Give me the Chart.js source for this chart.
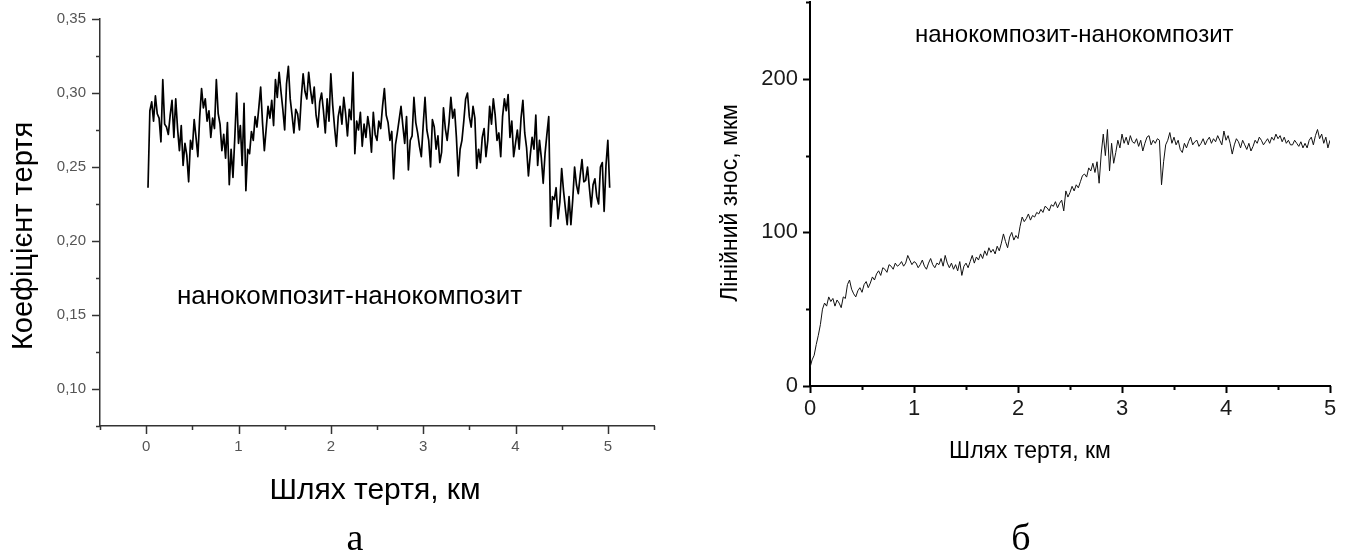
<!DOCTYPE html>
<html>
<head>
<meta charset="utf-8">
<title>Коефіцієнт тертя та лінійний знос</title>
<script src="https://cdn.jsdelivr.net/npm/chart.js@4.4.1/dist/chart.umd.min.js"></script>
<style>
    html, body { margin: 0; padding: 0; background: #fff; }
    #page { position: relative; width: 1351px; height: 553px; overflow: hidden; }
    .panel { position: absolute; top: 0; height: 553px; }
    #panelA { left: 0; width: 680px; }
    #panelB { left: 680px; width: 671px; }
</style>
</head>
<body>
<div id="page">
    <div class="panel" id="panelA"><canvas id="frictionChart"></canvas></div>
    <div class="panel" id="panelB"><canvas id="wearChart"></canvas></div>
</div>
<script>
// Panel а: friction coefficient, one reading every 0.02 km starting at 0.02 km
const frictionStartKm = 0.02;
const frictionStepKm = 0.02;
const frictionValues = [
    0.236, 0.288, 0.294, 0.281, 0.298, 0.286, 0.283, 0.267, 0.309, 0.279,
    0.277, 0.272, 0.285, 0.295, 0.270, 0.296, 0.276, 0.261, 0.278, 0.251,
    0.266, 0.258, 0.240, 0.268, 0.262, 0.282, 0.270, 0.257, 0.284, 0.303,
    0.290, 0.296, 0.281, 0.288, 0.270, 0.283, 0.276, 0.309, 0.286, 0.279,
    0.261, 0.272, 0.256, 0.280, 0.238, 0.262, 0.243, 0.270, 0.300, 0.266,
    0.278, 0.251, 0.293, 0.234, 0.262, 0.259, 0.274, 0.268, 0.284, 0.277,
    0.290, 0.304, 0.280, 0.261, 0.276, 0.291, 0.283, 0.295, 0.278, 0.309,
    0.297, 0.314, 0.301, 0.289, 0.275, 0.306, 0.318, 0.296, 0.285, 0.273,
    0.289, 0.286, 0.275, 0.297, 0.313, 0.301, 0.296, 0.314, 0.302, 0.293,
    0.304, 0.285, 0.277, 0.294, 0.300, 0.288, 0.273, 0.296, 0.281, 0.313,
    0.292, 0.277, 0.264, 0.284, 0.291, 0.279, 0.297, 0.286, 0.271, 0.289,
    0.282, 0.314, 0.259, 0.281, 0.275, 0.287, 0.264, 0.279, 0.270, 0.284,
    0.276, 0.260, 0.287, 0.272, 0.268, 0.281, 0.276, 0.291, 0.303, 0.285,
    0.280, 0.268, 0.274, 0.242, 0.265, 0.273, 0.282, 0.291, 0.278, 0.266,
    0.284, 0.248, 0.268, 0.271, 0.297, 0.280, 0.273, 0.264, 0.257, 0.278,
    0.297, 0.275, 0.268, 0.250, 0.282, 0.277, 0.262, 0.271, 0.253, 0.260,
    0.290, 0.276, 0.268, 0.280, 0.297, 0.283, 0.289, 0.270, 0.244, 0.262,
    0.268, 0.281, 0.296, 0.300, 0.284, 0.277, 0.291, 0.283, 0.249, 0.262,
    0.253, 0.270, 0.276, 0.257, 0.268, 0.291, 0.279, 0.296, 0.285, 0.268,
    0.273, 0.257, 0.284, 0.296, 0.288, 0.299, 0.270, 0.281, 0.257, 0.266,
    0.275, 0.262, 0.283, 0.295, 0.273, 0.263, 0.244, 0.258, 0.270, 0.262,
    0.285, 0.251, 0.268, 0.256, 0.239, 0.259, 0.272, 0.284, 0.210, 0.230,
    0.228, 0.236, 0.215, 0.226, 0.249, 0.234, 0.222, 0.211, 0.230, 0.211,
    0.228, 0.250, 0.238, 0.232, 0.244, 0.255, 0.240, 0.241, 0.250, 0.236,
    0.223, 0.238, 0.242, 0.230, 0.225, 0.250, 0.253, 0.220, 0.251, 0.268,
    0.236
];
const frictionXTicks = [0, 1, 2, 3, 4, 5];
const frictionXMinorTicks = [-0.5, 0.5, 1.5, 2.5, 3.5, 4.5, 5.5];
const frictionYTicks = [0.10, 0.15, 0.20, 0.25, 0.30, 0.35];
const frictionYMinorTicks = [0.075, 0.125, 0.175, 0.225, 0.275, 0.325];

// Panel б: linear wear (мкм), one reading every 0.02 km starting at 0 km
const wearStartKm = 0;
const wearStepKm = 0.02;
const wearValues = [
    12, 17, 20, 27, 33, 40, 50, 54, 52, 58,
    55, 57, 52, 56, 54, 51, 58, 57, 66, 69,
    63, 60, 58, 62, 64, 61, 66, 68, 64, 67,
    71, 69, 73, 75, 72, 77, 76, 74, 79, 78,
    76, 80, 78, 79, 81, 78, 80, 85, 82, 79,
    81, 80, 77, 79, 82, 78, 76, 80, 83, 79,
    77, 80, 79, 83, 78, 85, 80, 77, 80, 76,
    79, 75, 81, 72, 78, 80, 77, 81, 85, 80,
    84, 82, 86, 83, 88, 85, 90, 87, 89, 86,
    91, 88, 93, 99, 94, 90, 97, 100, 95, 98,
    96, 104, 110, 107, 109, 112, 108, 111, 110, 113,
    112, 115, 113, 117, 116, 114, 118, 117, 120, 116,
    119, 121, 114, 127, 123, 126, 130, 127, 131, 129,
    133, 137, 138, 136, 142, 140, 145, 139, 146, 132,
    151, 164, 150, 167, 140, 158, 145, 152, 160, 155,
    164, 158, 162, 157, 163, 159, 158, 161, 156, 160,
    153, 158, 162, 163, 157, 160, 158, 161, 160, 131,
    146, 157, 160, 165, 158, 162, 157, 160, 154, 152,
    158, 155, 159, 162, 157, 159, 160, 156, 158, 161,
    157, 160, 162, 158, 161, 159, 163, 160, 157, 166,
    160, 163, 158, 151, 157, 161, 159, 155, 160, 157,
    154, 158, 153, 156, 160, 158, 162, 160, 157, 159,
    161, 158, 162, 160, 164, 161, 163, 159, 162, 158,
    160, 157, 157, 160, 158, 156, 159, 155, 158, 155,
    160, 162, 157, 163, 167, 161, 164, 158, 162, 155,
    160
];
const wearXTicks = [0, 1, 2, 3, 4, 5];
const wearXMinorTicks = [0.5, 1.5, 2.5, 3.5, 4.5];
const wearYTicks = [0, 100, 200];
const wearYMinorTicks = [50, 150, 250];

const SANS = '"Liberation Sans", Arial, sans-serif';
const SERIF = '"Liberation Serif", "Times New Roman", serif';

// Turn a value list into {x, y} points
function toPoints(values, startKm, stepKm) {
    return values.map((v, i) => ({ x: startKm + i * stepKm, y: v }));
}

// Tick marks of two lengths and free text labels, drawn on top of the chart
function makeDecor(spec) {
    return {
        id: 'decor_' + spec.id,
        afterDraw(chart) {
            const { ctx, chartArea, scales } = chart;
            ctx.save();
            ctx.strokeStyle = spec.axisColor;
            ctx.lineWidth = spec.tickWidth;

            const xTick = (v, len) => {
                const px = Math.round(scales.x.getPixelForValue(v)) + 0.5;
                ctx.beginPath();
                ctx.moveTo(px, chartArea.bottom);
                ctx.lineTo(px, chartArea.bottom + len);
                ctx.stroke();
            };
            const yTick = (v, len) => {
                const py = Math.round(scales.y.getPixelForValue(v)) + 0.5;
                ctx.beginPath();
                ctx.moveTo(chartArea.left, py);
                ctx.lineTo(chartArea.left - len, py);
                ctx.stroke();
            };
            spec.xTicks.forEach(v => xTick(v, spec.majorLen));
            spec.xMinor.forEach(v => xTick(v, spec.minorLen));
            spec.yTicks.forEach(v => yTick(v, spec.majorLen));
            spec.yMinor.forEach(v => yTick(v, spec.minorLen));

            spec.texts.forEach(t => {
                ctx.save();
                ctx.font = t.font;
                ctx.fillStyle = '#000';
                ctx.textAlign = t.align || 'center';
                ctx.textBaseline = 'alphabetic';
                ctx.translate(t.x, t.y);
                if (t.rotate) ctx.rotate(t.rotate);
                ctx.fillText(t.text, 0, 0);
                ctx.restore();
            });
            ctx.restore();
        }
    };
}

function buildChart(canvasId, spec) {
    return new Chart(document.getElementById(canvasId), {
        type: 'line',
        data: {
            datasets: [{
                data: spec.points,
                borderColor: spec.lineColor,
                borderWidth: spec.lineWidth,
                borderJoinStyle: 'round',
                pointRadius: 0,
                tension: 0,
                fill: false
            }]
        },
        options: {
            responsive: true,
            maintainAspectRatio: false,
            animation: false,
            events: [],
            layout: { padding: spec.padding },
            plugins: {
                legend: { display: false },
                tooltip: { enabled: false }
            },
            scales: {
                x: {
                    type: 'linear',
                    min: spec.xMin,
                    max: spec.xMax,
                    afterBuildTicks: s => { s.ticks = spec.xTicks.map(v => ({ value: v })); },
                    afterFit: s => {
                        s.height = spec.xHeight;
                        s.paddingLeft = s.paddingRight = s.paddingTop = s.paddingBottom = 0;
                    },
                    grid: { display: false, drawTicks: false },
                    border: { display: true, color: spec.axisColor, width: spec.axisWidth },
                    ticks: {
                        autoSkip: false,
                        maxRotation: 0,
                        padding: spec.xLabelPad,
                        color: spec.labelColor,
                        font: { family: SANS, size: spec.labelSize },
                        callback: v => String(v)
                    }
                },
                y: {
                    type: 'linear',
                    min: spec.yMin,
                    max: spec.yMax,
                    afterBuildTicks: s => { s.ticks = spec.yTicks.map(v => ({ value: v })); },
                    afterFit: s => {
                        s.width = spec.yWidth;
                        s.paddingLeft = s.paddingRight = s.paddingTop = s.paddingBottom = 0;
                    },
                    grid: { display: false, drawTicks: false },
                    border: { display: true, color: spec.axisColor, width: spec.axisWidth },
                    ticks: {
                        autoSkip: false,
                        padding: spec.yLabelPad,
                        color: spec.labelColor,
                        font: { family: SANS, size: spec.labelSize },
                        callback: spec.yFormat
                    }
                }
            }
        },
        plugins: [makeDecor(spec)]
    });
}

// Panel а
buildChart('frictionChart', {
    id: 'a',
    points: toPoints(frictionValues, frictionStartKm, frictionStepKm),
    lineColor: '#000',
    lineWidth: 1.7,
    padding: { top: 19, right: 26, bottom: 0, left: 0 },
    xMin: -0.5, xMax: 5.5,
    yMin: 0.075, yMax: 0.35,
    xTicks: frictionXTicks, xMinor: frictionXMinorTicks,
    yTicks: frictionYTicks, yMinor: frictionYMinorTicks,
    xHeight: 127, yWidth: 100,
    xLabelPad: 12, yLabelPad: 14,
    labelSize: 15, labelColor: '#555',
    axisColor: '#333', axisWidth: 1.5, tickWidth: 1.5,
    majorLen: 8, minorLen: 4,
    yFormat: v => v.toFixed(2).replace('.', ','),
    texts: [
        { text: 'Коефіцієнт тертя', x: 32, y: 236, rotate: -Math.PI / 2, font: '29px ' + SANS },
        { text: 'Шлях тертя, км', x: 375, y: 499, font: '30px ' + SANS },
        { text: 'нанокомпозит-нанокомпозит', x: 177, y: 304, align: 'left', font: '26px ' + SANS },
        { text: 'а', x: 355, y: 550, font: '38px ' + SERIF }
    ]
});

// Panel б
buildChart('wearChart', {
    id: 'b',
    points: toPoints(wearValues, wearStartKm, wearStepKm),
    lineColor: '#111',
    lineWidth: 1,
    padding: { top: 2, right: 21, bottom: 0, left: 0 },
    xMin: 0, xMax: 5,
    yMin: 0, yMax: 250,
    xTicks: wearXTicks, xMinor: wearXMinorTicks,
    yTicks: wearYTicks, yMinor: wearYMinorTicks,
    xHeight: 167, yWidth: 130,
    xLabelPad: 10, yLabelPad: 12,
    labelSize: 22, labelColor: '#1a1a1a',
    axisColor: '#000', axisWidth: 2, tickWidth: 2,
    majorLen: 7, minorLen: 4,
    yFormat: v => String(v),
    texts: [
        { text: 'Лінійний знос, мкм', x: 57, y: 203, rotate: -Math.PI / 2, font: '23px ' + SANS },
        { text: 'Шлях тертя, км', x: 350, y: 458, font: '23px ' + SANS },
        { text: 'нанокомпозит-нанокомпозит', x: 235, y: 42, align: 'left', font: '24px ' + SANS },
        { text: 'б', x: 341, y: 550, font: '38px ' + SERIF }
    ]
});
</script>
</body>
</html>
